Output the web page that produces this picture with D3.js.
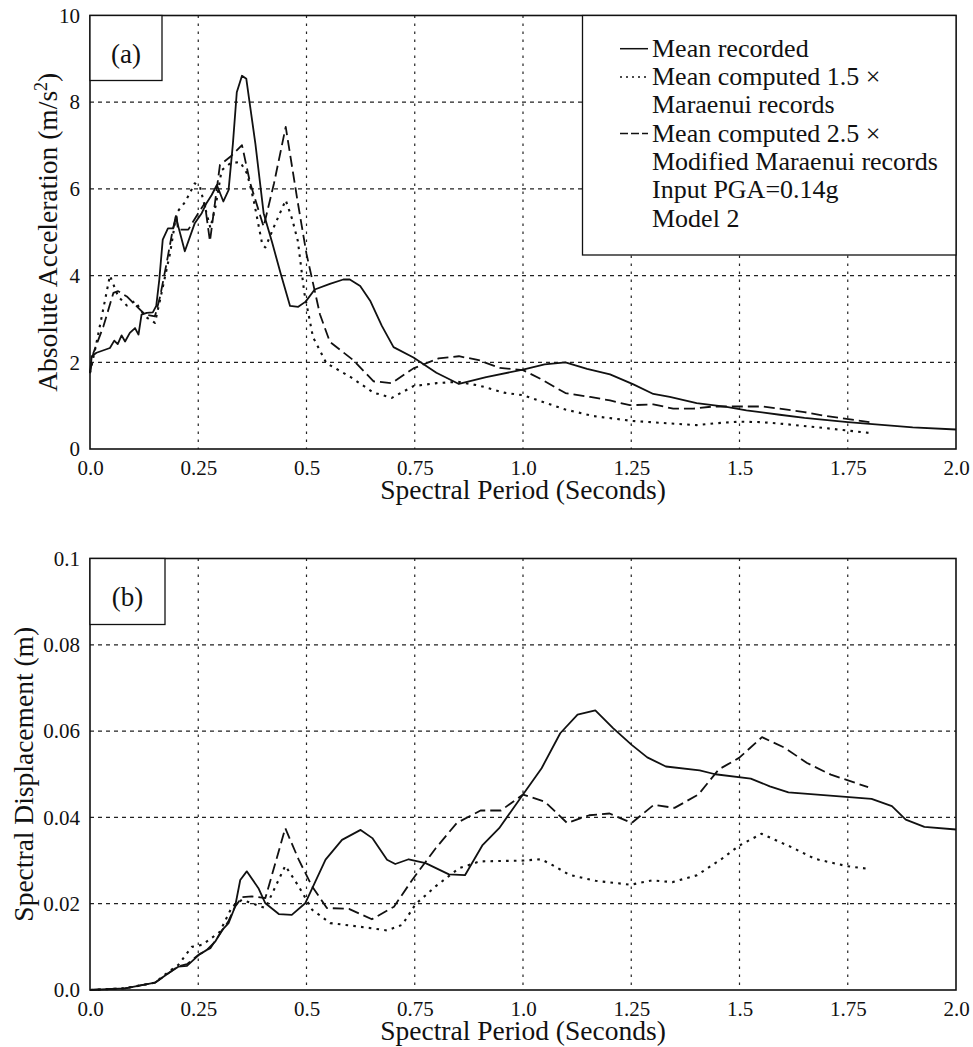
<!DOCTYPE html>
<html>
<head>
<meta charset="utf-8">
<script src="https://cdn.jsdelivr.net/npm/d3@7"></script>
<style>
  html, body { margin: 0; padding: 0; background: #fff; }
  svg { display: block; }
</style>
</head>
<body>
<svg id="fig" width="973" height="1047"></svg>
<script>
// Period ticks shared by both panels
const periodTicks = [0, 0.25, 0.5, 0.75, 1.0, 1.25, 1.5, 1.75, 2.0];
const periodTickLabels = ["0.0", "0.25", "0.5", "0.75", "1.0", "1.25", "1.5", "1.75", "2.0"];

// Panel (a): absolute acceleration (m/s^2) vs period (s)
const accTicks = [0, 2, 4, 6, 8, 10];
const accTickLabels = ["0", "2", "4", "6", "8", "10"];

const accRecorded = [
  [0,1.75],[0.004,2.14],[0.015,2.22],[0.046,2.33],[0.056,2.5],[0.064,2.42],[0.073,2.62],[0.081,2.48],
  [0.092,2.68],[0.104,2.79],[0.112,2.64],[0.119,3.1],[0.131,3.14],[0.145,3.15],[0.153,3.3],[0.16,3.9],
  [0.168,4.83],[0.18,5.09],[0.192,5.09],[0.198,5.36],[0.219,4.56],[0.242,5.21],[0.258,5.44],[0.269,5.67],
  [0.281,5.86],[0.293,6.09],[0.308,5.71],[0.32,5.97],[0.33,7.04],[0.339,8.23],[0.351,8.61],[0.361,8.54],
  [0.37,7.89],[0.382,7.04],[0.401,5.44],[0.421,4.75],[0.44,4.06],[0.462,3.3],[0.481,3.28],[0.498,3.4],
  [0.519,3.68],[0.554,3.81],[0.585,3.91],[0.6,3.91],[0.624,3.76],[0.647,3.42],[0.674,2.84],[0.701,2.35],
  [0.747,2.11],[0.8,1.76],[0.852,1.5],[0.915,1.66],[1.0,1.83],[1.05,1.95],[1.098,2.0],[1.148,1.85],
  [1.201,1.72],[1.255,1.49],[1.301,1.27],[1.339,1.2],[1.401,1.06],[1.47,0.97],[1.516,0.89],[1.593,0.79],
  [1.65,0.72],[1.75,0.62],[1.8,0.58],[1.9,0.5],[2.0,0.45]
];
const accMaraenui = [
  [0,1.75],[0.015,2.45],[0.046,4.0],[0.065,3.52],[0.085,3.31],[0.104,3.41],[0.127,3.06],[0.15,2.91],
  [0.162,3.45],[0.185,4.52],[0.2,5.45],[0.22,5.7],[0.242,6.13],[0.254,6.05],[0.265,5.6],[0.278,5.1],
  [0.29,5.6],[0.304,6.43],[0.324,6.59],[0.347,6.62],[0.363,6.35],[0.378,5.74],[0.398,4.71],[0.405,4.65],
  [0.425,5.13],[0.452,5.74],[0.467,5.3],[0.48,4.8],[0.495,3.6],[0.515,2.58],[0.546,1.98],[0.6,1.67],
  [0.655,1.3],[0.697,1.18],[0.747,1.45],[0.801,1.52],[0.85,1.55],[0.9,1.46],[0.956,1.3],[1.0,1.24],
  [1.048,1.08],[1.098,0.91],[1.163,0.76],[1.25,0.65],[1.324,0.6],[1.401,0.55],[1.439,0.59],[1.5,0.63],
  [1.55,0.62],[1.6,0.58],[1.7,0.48],[1.8,0.37]
];
const accModified = [
  [0,1.75],[0.008,2.22],[0.031,2.83],[0.054,3.6],[0.065,3.64],[0.085,3.52],[0.115,3.22],[0.127,3.1],
  [0.15,3.06],[0.162,3.52],[0.177,4.29],[0.19,5.0],[0.2,5.4],[0.203,5.06],[0.227,5.06],[0.25,5.44],
  [0.265,5.67],[0.277,4.79],[0.3,6.55],[0.324,6.74],[0.351,7.01],[0.37,6.13],[0.401,5.13],[0.425,6.13],
  [0.452,7.43],[0.479,5.74],[0.5,4.5],[0.531,3.11],[0.554,2.47],[0.608,2.05],[0.655,1.56],[0.697,1.52],
  [0.747,1.86],[0.805,2.09],[0.852,2.14],[0.898,2.05],[0.946,1.87],[1.0,1.82],[1.04,1.62],[1.098,1.29],
  [1.155,1.2],[1.201,1.12],[1.247,1.01],[1.301,1.03],[1.347,0.93],[1.393,0.93],[1.439,0.98],[1.5,0.98],
  [1.554,0.98],[1.593,0.93],[1.65,0.85],[1.7,0.76],[1.8,0.62]
];

// Panel (b): spectral displacement (m) vs period (s)
const dispTicks = [0, 0.02, 0.04, 0.06, 0.08, 0.1];
const dispTickLabels = ["0.0", "0.02", "0.04", "0.06", "0.08", "0.1"];

const dispRecorded = [
  [0,0],[0.081,0.0004],[0.15,0.0017],[0.181,0.0039],[0.204,0.0054],[0.224,0.0056],[0.251,0.0081],
  [0.27,0.0093],[0.289,0.0112],[0.305,0.0139],[0.32,0.0155],[0.335,0.0193],[0.347,0.0255],[0.362,0.0275],
  [0.389,0.0236],[0.405,0.0201],[0.436,0.0176],[0.466,0.0174],[0.497,0.0201],[0.544,0.0302],[0.582,0.0348],
  [0.625,0.0371],[0.652,0.0352],[0.686,0.0302],[0.705,0.0292],[0.736,0.0303],[0.775,0.0294],[0.829,0.0268],
  [0.866,0.0266],[0.906,0.0335],[0.945,0.0375],[1.0,0.0453],[1.043,0.0514],[1.086,0.0595],[1.126,0.0638],
  [1.167,0.0648],[1.208,0.0607],[1.251,0.0568],[1.287,0.0539],[1.33,0.0518],[1.408,0.0509],[1.444,0.05],
  [1.526,0.049],[1.57,0.0472],[1.613,0.0458],[1.805,0.0443],[1.852,0.0426],[1.884,0.0395],[1.927,0.0378],
  [2.0,0.0372]
];
const dispMaraenui = [
  [0,0],[0.081,0.0004],[0.15,0.0017],[0.181,0.0042],[0.204,0.0058],[0.235,0.01],[0.26,0.0105],[0.3,0.0135],
  [0.328,0.0193],[0.351,0.0209],[0.405,0.019],[0.451,0.0288],[0.482,0.024],[0.513,0.0186],[0.555,0.0155],
  [0.605,0.0149],[0.651,0.0143],[0.686,0.0138],[0.721,0.0151],[0.752,0.0199],[0.798,0.024],[0.852,0.0282],
  [0.9,0.0298],[1.0,0.03],[1.042,0.0303],[1.069,0.0289],[1.107,0.0267],[1.168,0.0253],[1.249,0.0244],
  [1.298,0.0254],[1.345,0.025],[1.402,0.0266],[1.459,0.0304],[1.5,0.0335],[1.551,0.0362],[1.62,0.0331],
  [1.674,0.0304],[1.748,0.0287],[1.796,0.0281]
];
const dispModified = [
  [0,0],[0.081,0.0004],[0.15,0.0017],[0.181,0.0039],[0.204,0.0055],[0.224,0.006],[0.251,0.0082],[0.278,0.0097],
  [0.3,0.013],[0.32,0.016],[0.335,0.0193],[0.351,0.0215],[0.374,0.0217],[0.405,0.0213],[0.451,0.0375],
  [0.482,0.0302],[0.513,0.024],[0.547,0.019],[0.598,0.0188],[0.651,0.0164],[0.702,0.0193],[0.744,0.0255],
  [0.798,0.0328],[0.847,0.0387],[0.902,0.0416],[0.949,0.0416],[1.0,0.0453],[1.051,0.0436],[1.102,0.0387],
  [1.153,0.0405],[1.2,0.0409],[1.251,0.0387],[1.302,0.0429],[1.35,0.0422],[1.405,0.0453],[1.452,0.0511],
  [1.499,0.0538],[1.552,0.0586],[1.605,0.0561],[1.656,0.0526],[1.711,0.0499],[1.797,0.047]
];

const legendLines = [
  "Mean recorded",
  "Mean computed 1.5 \u00d7",
  "Maraenui records",
  "Mean computed 2.5 \u00d7",
  "Modified Maraenui records",
  "Input PGA=0.14g",
  "Model 2"
];

// Line styles for the three series
const styles = {
  recorded: { dash: null, width: 1.8 },
  maraenui: { dash: "2.6,5.2", width: 2.1 },
  modified: { dash: "11,5", width: 1.8 }
};

const FONT = '"Liberation Serif", serif';
const INK = "#111";

// apply the serif face and ink colour to a text selection
function serif(sel, size) {
  sel.style("font-family", FONT).style("font-size", size + "px").style("fill", INK);
  return sel;
}

const svg = d3.select("#fig");
svg.append("rect").attr("width", 973).attr("height", 1047).attr("fill", "#fff");

const plotLeft = 90, plotRight = 956;

function panel(opts) {
  const g = svg.append("g");
  const x = d3.scaleLinear().domain([0, 2]).range([plotLeft, plotRight]);
  const y = d3.scaleLinear().domain(opts.yDomain).range([opts.bottom, opts.top]);

  // grid
  const grid = g.append("g").attr("stroke", "#222").attr("stroke-width", 1.2).attr("fill", "none");
  grid.selectAll("line.v").data(periodTicks.slice(1, -1)).join("line")
    .attr("class", "v")
    .attr("x1", d => x(d)).attr("x2", d => x(d))
    .attr("y1", opts.top).attr("y2", opts.bottom)
    .attr("stroke-dasharray", "2.5,5.5");
  grid.selectAll("line.h").data(opts.yTicks.slice(1, -1)).join("line")
    .attr("class", "h")
    .attr("x1", plotLeft).attr("x2", plotRight)
    .attr("y1", d => y(d)).attr("y2", d => y(d))
    .attr("stroke-dasharray", "4,4");

  // axes (labels only; frame drawn separately)
  const xAxis = d3.axisBottom(x).tickValues(periodTicks)
    .tickFormat((d, i) => periodTickLabels[i]).tickSize(0).tickPadding(11);
  const gx = g.append("g").attr("transform", `translate(0,${opts.bottom})`).call(xAxis);
  gx.select(".domain").remove();
  serif(gx.selectAll("text"), 21);

  const yAxis = d3.axisLeft(y).tickValues(opts.yTicks)
    .tickFormat((d, i) => opts.yTickLabels[i]).tickSize(0).tickPadding(10);
  const gy = g.append("g").attr("transform", `translate(${plotLeft},0)`).call(yAxis);
  gy.select(".domain").remove();
  serif(gy.selectAll("text"), 21);

  // series
  const line = d3.line().x(d => x(d[0])).y(d => y(d[1]));
  opts.series.forEach(s => {
    g.append("path").datum(s.data)
      .attr("d", line).attr("fill", "none").attr("stroke", INK)
      .attr("stroke-width", s.style.width)
      .attr("stroke-linejoin", "round")
      .attr("stroke-dasharray", s.style.dash);
  });

  // frame
  g.append("rect").attr("x", plotLeft).attr("y", opts.top)
    .attr("width", plotRight - plotLeft).attr("height", opts.bottom - opts.top)
    .attr("fill", "none").attr("stroke", INK).attr("stroke-width", 1.6);

  // panel tag box
  g.append("rect").attr("x", plotLeft).attr("y", opts.top)
    .attr("width", opts.tagW).attr("height", opts.tagH)
    .attr("fill", "#fff").attr("stroke", INK).attr("stroke-width", 1.3);
  serif(g.append("text"), 27)
    .attr("x", plotLeft + opts.tagW / 2).attr("y", opts.top + 47)
    .attr("text-anchor", "middle").text(opts.tag);

  // axis titles
  serif(g.append("text"), 27.5)
    .attr("x", (plotLeft + plotRight) / 2).attr("y", opts.bottom + 50)
    .attr("text-anchor", "middle")
    .text("Spectral Period (Seconds)");

  const yt = serif(g.append("text"), 27.5)
    .attr("transform", `translate(${opts.titleX},${(opts.top + opts.bottom) / 2}) rotate(-90)`)
    .attr("text-anchor", "middle");
  opts.yTitle(yt);

  return { g, x, y };
}

panel({
  top: 15.5, bottom: 449,
  yDomain: [0, 10], yTicks: accTicks, yTickLabels: accTickLabels,
  tag: "(a)", tagW: 72, tagH: 65, titleX: 57,
  series: [
    { data: accRecorded, style: styles.recorded },
    { data: accMaraenui, style: styles.maraenui },
    { data: accModified, style: styles.modified }
  ],
  yTitle: t => {
    t.append("tspan").text("Absolute Acceleration (m/s");
    t.append("tspan").attr("dy", -10).style("font-size", "18px").text("2");
    t.append("tspan").attr("dy", 10).text(")");
  }
});

panel({
  top: 558.5, bottom: 990,
  yDomain: [0, 0.1], yTicks: dispTicks, yTickLabels: dispTickLabels,
  tag: "(b)", tagW: 75, tagH: 66, titleX: 33,
  series: [
    { data: dispRecorded, style: styles.recorded },
    { data: dispMaraenui, style: styles.maraenui },
    { data: dispModified, style: styles.modified }
  ],
  yTitle: t => t.text("Spectral Displacement (m)")
});

// legend for panel (a)
const lg = svg.append("g");
lg.append("rect").attr("x", 582.5).attr("y", 15.5).attr("width", plotRight - 582.5).attr("height", 239.5)
  .attr("fill", "#fff").attr("stroke", INK).attr("stroke-width", 1.3);
const rowY = i => 56.7 + i * 28.3;
serif(lg.selectAll("text.item").data(legendLines).join("text"), 26)
  .attr("class", "item")
  .attr("x", 652).attr("y", (d, i) => rowY(i))
  .text(d => d);
const samples = [
  { row: 0, dash: null, width: 1.5 },
  { row: 1, dash: "2,4", width: 1.5 },
  { row: 3, dash: "8,3", width: 1.5 }
];
lg.selectAll("line.sample").data(samples).join("line")
  .attr("class", "sample")
  .attr("x1", 620).attr("x2", 648)
  .attr("y1", d => rowY(d.row) - 8).attr("y2", d => rowY(d.row) - 8)
  .attr("stroke", INK).attr("stroke-width", d => d.width)
  .attr("stroke-dasharray", d => d.dash);
</script>
</body>
</html>
